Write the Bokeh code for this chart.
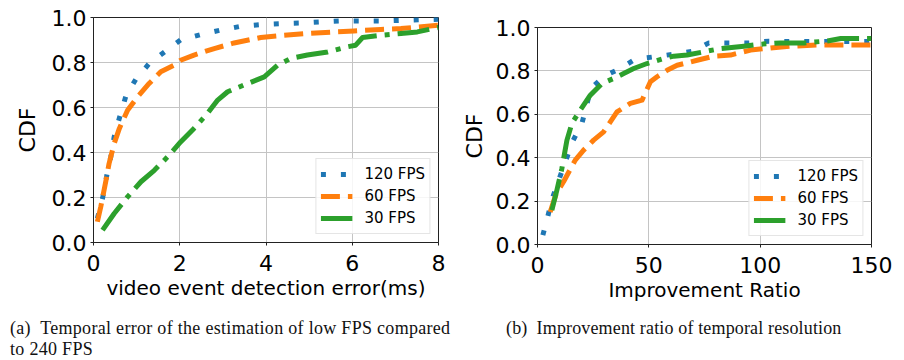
from bokeh.plotting import figure
from bokeh.layouts import column, row
from bokeh.models import (Div, FixedTicker, PrintfTickFormatter, Legend,
                          LegendItem, Range1d, Spacer)
from bokeh.embed import file_html
from bokeh.resources import INLINE

# ---------------- data ----------------
series_names = ["120 FPS", "60 FPS", "30 FPS"]

# panel (a): video event detection error (ms)
a_120_x = [0.09, 0.21, 0.31, 0.40, 0.48, 0.61, 0.75, 0.98, 1.29, 1.65, 2.02, 2.49,
           2.95, 3.42, 3.92, 4.38, 4.85, 5.33, 5.81, 6.29, 6.76, 7.24, 7.72, 8.0]
a_120_y = [0.107, 0.196, 0.30, 0.38, 0.47, 0.56, 0.65, 0.725, 0.795, 0.847, 0.90, 0.924,
           0.944, 0.961, 0.969, 0.973, 0.976, 0.981, 0.985, 0.985, 0.985, 0.988, 0.991, 0.992]
a_60_x = [0.09, 0.17, 0.29, 0.36, 0.48, 0.60, 0.79, 1.02, 1.29, 1.56, 1.87, 2.02,
          2.33, 2.80, 3.26, 3.88, 4.42, 4.96, 5.58, 6.04, 6.66, 7.13, 8.0]
a_60_y = [0.092, 0.16, 0.277, 0.35, 0.44, 0.507, 0.588, 0.647, 0.707, 0.759, 0.788, 0.81,
          0.833, 0.862, 0.887, 0.911, 0.921, 0.929, 0.936, 0.94, 0.947, 0.951, 0.966]
a_30_x = [0.21, 0.48, 0.79, 1.10, 1.41, 1.72, 2.02, 2.33, 2.64, 2.88, 3.11, 3.49,
          3.96, 4.27, 4.57, 4.96, 5.43, 5.89, 6.08, 6.24, 6.66, 7.13, 7.51, 8.0]
a_30_y = [0.055, 0.129, 0.203, 0.27, 0.321, 0.381, 0.447, 0.507, 0.573, 0.633, 0.67, 0.70,
          0.736, 0.788, 0.818, 0.833, 0.847, 0.87, 0.877, 0.911, 0.921, 0.929, 0.936, 0.956]

# panel (b): improvement ratio
b_120_x = [2.4, 4.65, 6.9, 9.9, 15.9, 19.95, 24.0, 30.0, 37.2, 43.95, 52.5, 61.2,
           69.9, 76.95, 85.95, 94.95, 103.95, 112.95, 121.65, 130.5, 139.95, 148.65, 150.0]
b_120_y = [0.043, 0.131, 0.22, 0.307, 0.478, 0.558, 0.719, 0.776, 0.811, 0.854, 0.865, 0.877,
           0.891, 0.929, 0.929, 0.929, 0.937, 0.935, 0.935, 0.935, 0.935, 0.935, 0.935]
b_60_x = [5.7, 8.4, 11.7, 16.95, 20.7, 25.2, 29.7, 32.7, 35.7, 41.7, 46.95, 50.7,
          53.7, 58.2, 62.7, 71.7, 79.2, 86.7, 95.7, 104.7, 113.7, 125.7, 150.0]
b_60_y = [0.15, 0.235, 0.289, 0.389, 0.435, 0.481, 0.519, 0.565, 0.611, 0.65, 0.665, 0.75,
          0.773, 0.803, 0.826, 0.849, 0.868, 0.873, 0.896, 0.906, 0.914, 0.919, 0.919]
b_30_x = [6.45, 8.7, 10.95, 13.2, 15.45, 19.2, 23.7, 28.95, 34.2, 38.7, 43.2, 49.2,
          56.7, 61.2, 67.2, 74.7, 82.2, 92.7, 100.2, 109.2, 119.7, 130.2, 136.2, 143.7, 150.0]
b_30_y = [0.158, 0.25, 0.35, 0.48, 0.558, 0.619, 0.688, 0.742, 0.765, 0.788, 0.811, 0.834,
          0.857, 0.868, 0.873, 0.888, 0.903, 0.914, 0.923, 0.929, 0.929, 0.938, 0.949, 0.949, 0.949]

a_xticks = [0, 2, 4, 6, 8]
b_xticks = [0, 50, 100, 150]
y_ticks = [0.0, 0.2, 0.4, 0.6, 0.8, 1.0]

a_xlabel = "video event detection error(ms)"
b_xlabel = "Improvement Ratio"
y_label = "CDF"
caption_a = "(a)&ensp;Temporal error of the estimation of low FPS compared<br>to 240 FPS"
caption_b = "(b)&ensp;Improvement ratio of temporal resolution"

# ---------------- styles ----------------
COLORS = ["#1f77b4", "#ff7f0e", "#2ca02c"]
DASHES = ["5 15", "19 8", "32 8 5 8"]
FONT = "DejaVu Sans"


def make_panel(xmax, xticks, xlabel, data, w, h, bl, br, bt, bb, ylab_standoff):
    p = figure(width=w, height=h,
               min_border_left=bl, min_border_right=br,
               min_border_top=bt, min_border_bottom=bb,
               x_range=Range1d(0, xmax), y_range=Range1d(0, 1),
               output_backend="svg", toolbar_location=None)
    p.background_fill_color = "white"
    p.border_fill_color = "white"
    p.outline_line_color = "#222222"
    p.outline_line_width = 1

    p.xaxis.ticker = FixedTicker(ticks=xticks)
    p.xaxis.formatter = PrintfTickFormatter(format="%d")
    p.yaxis.ticker = FixedTicker(ticks=y_ticks)
    p.yaxis.formatter = PrintfTickFormatter(format="%.1f")
    p.xaxis.axis_label = xlabel
    p.yaxis.axis_label = y_label

    for ax in (p.xaxis, p.yaxis):
        ax.axis_line_color = "#222222"
        ax.major_tick_line_color = "#222222"
        ax.major_tick_in = 0
        ax.major_tick_out = 3
        ax.minor_tick_line_color = None
        ax.major_label_text_font = FONT
        ax.major_label_text_font_size = "22px"
        ax.major_label_text_color = "black"
        ax.axis_label_text_font = FONT
        ax.axis_label_text_font_size = "20px"
        ax.axis_label_text_font_style = "normal"
        ax.axis_label_text_color = "black"
    p.yaxis.axis_label_text_font_size = "22px"
    p.xaxis.major_label_standoff = 9
    p.yaxis.major_label_standoff = 4
    p.xaxis.axis_label_standoff = 2
    p.yaxis.axis_label_standoff = ylab_standoff

    p.grid.grid_line_color = "#c4c4c4"
    p.grid.grid_line_width = 1

    items = []
    for (xs, ys), name, c, d in zip(data, series_names, COLORS, DASHES):
        r = p.line(xs, ys, line_color=c, line_width=5, line_dash=d,
                   line_join="round")
        items.append(LegendItem(label=name, renderers=[r]))

    legend = Legend(items=items, location="bottom_right",
                    label_text_font=FONT, label_text_font_size="15px",
                    label_text_color="black",
                    glyph_width=32, glyph_height=22, label_height=22,
                    spacing=0, padding=4, margin=8, label_standoff=12,
                    border_line_color="#cccccc", border_line_width=1,
                    background_fill_color="white", background_fill_alpha=0.85)
    p.add_layout(legend)
    return p


# left panel: frame x 93..438, y 17..242
p1 = make_panel(8, a_xticks, a_xlabel,
                [(a_120_x, a_120_y), (a_60_x, a_60_y), (a_30_x, a_30_y)],
                w=450, h=310, bl=93, br=12, bt=17, bb=68, ylab_standoff=9)
# right panel: frame x 537..871, y 27..244 (10px spacer + 17px border)
p2 = make_panel(150, b_xticks, b_xlabel,
                [(b_120_x, b_120_y), (b_60_x, b_60_y), (b_30_x, b_30_y)],
                w=450, h=302, bl=87, br=29, bt=17, bb=68, ylab_standoff=6)

cap_style = ("font-family:'Liberation Serif',serif;font-size:18px;line-height:21px;"
             "letter-spacing:0.3px;color:#111;white-space:nowrap;")
div_a = Div(text=f'<div style="{cap_style}padding-top:6px;padding-left:10px;">{caption_a}</div>',
            width=450, height=48, margin=0)
div_b = Div(text=f'<div style="{cap_style}padding-top:6px;padding-left:56px;letter-spacing:0.15px;">{caption_b}</div>',
            width=450, height=48, margin=0)

layout = column(row(p1, column(Spacer(width=450, height=10), p2)),
                row(div_a, div_b))

open("out.html", "w").write(file_html(layout, INLINE))
